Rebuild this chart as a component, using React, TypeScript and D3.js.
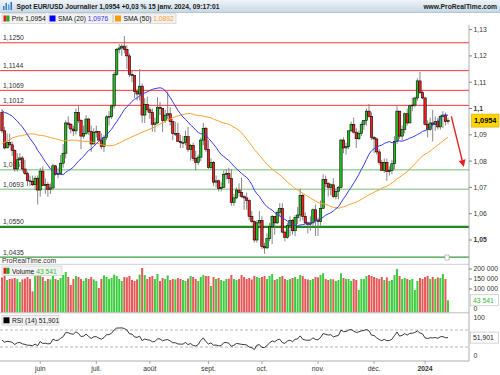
import React from "react";
import * as d3 from "d3";

// ---------- DATA ----------
// closes before the visible window (used only to warm up SMA / RSI)
const priorCloses = [
  1.0665, 1.0595, 1.0635, 1.0683, 1.055, 1.0545, 1.058, 1.064, 1.073, 1.0735, 1.0575, 1.061, 1.067, 1.072, 1.077, 1.0855, 1.083, 1.076, 1.08, 1.0845, 1.0845, 1.0905, 1.084,
  1.09, 1.0955, 1.0905, 1.092, 1.09, 1.086, 1.0915, 1.099, 1.1045, 1.099, 1.0925, 1.097, 1.0955, 1.0965, 1.099, 1.1045, 1.0975, 1.104, 1.1025, 1.102,
  1.0975, 1.0995, 1.107, 1.101, 1.102, 1.1005, 1.096, 1.0985,
];

const closes = [
  // mai
  1.0915, 1.085, 1.087, 1.0862, 1.084, 1.077, 1.0805, 1.0812, 1.077, 1.0752, 1.0725, 1.0723, 1.071, 1.0735, 1.069,
  // juin
  1.0762, 1.0708, 1.0712, 1.0693, 1.0698, 1.0782, 1.075, 1.0752, 1.0792, 1.083, 1.0945, 1.094, 1.0922, 1.0915, 1.0985, 1.0955, 1.0895, 1.0905, 1.096, 1.0912, 1.0865, 1.091,
  // juil.
  1.0912, 1.088, 1.0855, 1.089, 1.0968, 1.097, 1.101, 1.113, 1.1225, 1.123, 1.1237, 1.1225, 1.12, 1.113, 1.1125, 1.1065, 1.1055, 1.1085, 1.0975, 1.1015, 1.0995,
  // août
  1.0985, 1.094, 1.0945, 1.1005, 1.1, 1.0955, 1.0975, 1.098, 1.095, 1.0905, 1.0905, 1.0875, 1.087, 1.087, 1.0893, 1.0845, 1.086, 1.081, 1.0795, 1.0815, 1.088, 1.0925, 1.0845,
  // sept.
  1.0775, 1.0795, 1.072, 1.0725, 1.0695, 1.07, 1.075, 1.0752, 1.0733, 1.0643, 1.066, 1.069, 1.068, 1.0665, 1.066, 1.065, 1.059, 1.057, 1.05, 1.0565, 1.0575,
  // oct.
  1.0475, 1.047, 1.0505, 1.055, 1.059, 1.0565, 1.0605, 1.062, 1.053, 1.051, 1.0555, 1.0575, 1.0535, 1.0585, 1.0595, 1.067, 1.059, 1.0565, 1.056, 1.0565, 1.0615, 1.0575,
  // nov.
  1.057, 1.062, 1.073, 1.0715, 1.07, 1.071, 1.0665, 1.0685, 1.07, 1.088, 1.085, 1.0855, 1.0915, 1.094, 1.091, 1.0885, 1.0905, 1.094, 1.0955, 1.099, 1.097, 1.089,
  // déc.
  1.0884, 1.0835, 1.0795, 1.0765, 1.0795, 1.076, 1.0765, 1.079, 1.0875, 1.099, 1.0895, 1.092, 1.098, 1.0945, 1.101, 1.1013, 1.104, 1.1105, 1.106, 1.104,
  // janv.
  1.094, 1.092, 1.0945, 1.094, 1.095, 1.093, 1.097, 1.0975, 1.095, 1.0954,
];

const highs = [
  1.0997, 1.093, 1.0905, 1.0904, 1.0875, 1.0845, 1.083, 1.083, 1.082, 1.0805, 1.076, 1.0745, 1.0745, 1.0745, 1.0745,
  1.0775, 1.078, 1.0735, 1.072, 1.0715, 1.079, 1.0785, 1.0775, 1.0823, 1.0865, 1.0955, 1.097, 1.0945, 1.0935, 1.1, 1.1012, 1.096, 1.0935, 1.0975, 1.0965, 1.0935, 1.0925,
  1.0935, 1.0915, 1.0905, 1.09, 1.0975, 1.099, 1.1015, 1.114, 1.123, 1.1245, 1.1245, 1.1276, 1.124, 1.121, 1.1145, 1.1125, 1.1075, 1.115, 1.1095, 1.104, 1.1045,
  1.1005, 1.1, 1.0965, 1.1043, 1.1025, 1.1, 1.0995, 1.1065, 1.1005, 1.096, 1.095, 1.0945, 1.09, 1.0895, 1.0915, 1.093, 1.0865, 1.087, 1.084, 1.0825, 1.089, 1.0945, 1.093,
  1.088, 1.081, 1.08, 1.0745, 1.073, 1.072, 1.0765, 1.077, 1.0775, 1.077, 1.0675, 1.07, 1.0715, 1.0737, 1.067, 1.068, 1.0655, 1.061, 1.0575, 1.0575, 1.061,
  1.059, 1.049, 1.0525, 1.0565, 1.0595, 1.058, 1.0615, 1.064, 1.064, 1.0535, 1.0565, 1.059, 1.058, 1.0595, 1.0625, 1.0695, 1.0675, 1.0605, 1.057, 1.059, 1.062, 1.0635,
  1.0585, 1.065, 1.075, 1.0745, 1.072, 1.0715, 1.0735, 1.0695, 1.0705, 1.0885, 1.089, 1.087, 1.0915, 1.095, 1.0965, 1.0925, 1.0915, 1.095, 1.0955, 1.1, 1.1017, 1.0985,
  1.0895, 1.089, 1.0845, 1.0805, 1.081, 1.081, 1.078, 1.0805, 1.0895, 1.101, 1.099, 1.0935, 1.0985, 1.1, 1.1015, 1.104, 1.1045, 1.1115, 1.1139, 1.107,
  1.1045, 1.0955, 1.0965, 1.0995, 1.097, 1.0965, 1.0975, 1.099, 1.0985, 1.0965,
];

const lows = [
  1.0906, 1.0845, 1.085, 1.0855, 1.082, 1.076, 1.076, 1.08, 1.076, 1.0747, 1.0705, 1.0705, 1.0705, 1.069, 1.0635,
  1.0665, 1.0705, 1.0675, 1.0665, 1.0675, 1.069, 1.0745, 1.0735, 1.075, 1.0775, 1.081, 1.0925, 1.0905, 1.0895, 1.09, 1.0945, 1.0845, 1.0885, 1.09, 1.09, 1.0835, 1.0865,
  1.089, 1.0875, 1.0845, 1.0835, 1.088, 1.0935, 1.096, 1.1, 1.1125, 1.121, 1.12, 1.121, 1.115, 1.112, 1.11, 1.104, 1.103, 1.103, 1.0945, 1.0945, 1.0985,
  1.096, 1.0912, 1.091, 1.094, 1.0975, 1.091, 1.0945, 1.096, 1.0935, 1.088, 1.0895, 1.0875, 1.085, 1.085, 1.086, 1.0835, 1.0802, 1.08, 1.0765, 1.0785, 1.08, 1.086, 1.0835,
  1.077, 1.077, 1.0705, 1.07, 1.0685, 1.0685, 1.07, 1.073, 1.0715, 1.063, 1.063, 1.0655, 1.0665, 1.066, 1.0615, 1.0615, 1.0575, 1.0565, 1.049, 1.049, 1.0555,
  1.0465, 1.0448, 1.0465, 1.0495, 1.0485, 1.052, 1.056, 1.059, 1.0525, 1.0495, 1.0505, 1.0515, 1.052, 1.0515, 1.056, 1.057, 1.0575, 1.056, 1.0525, 1.0535, 1.0555, 1.0515,
  1.0515, 1.0555, 1.062, 1.07, 1.0665, 1.067, 1.066, 1.0655, 1.0655, 1.0695, 1.083, 1.0825, 1.0845, 1.091, 1.0905, 1.085, 1.088, 1.0895, 1.092, 1.0935, 1.0965, 1.088,
  1.083, 1.0825, 1.0785, 1.0765, 1.0755, 1.0725, 1.0745, 1.075, 1.077, 1.0865, 1.0885, 1.088, 1.0905, 1.0935, 1.0945, 1.099, 1.1005, 1.103, 1.1055, 1.1035,
  1.0935, 1.089, 1.0915, 1.0875, 1.0915, 1.092, 1.092, 1.0925, 1.0935, 1.094,
];

// volume in thousands
const volumes = [
  158, 165, 145, 150, 152, 155, 150, 135, 148, 152, 160, 150, 88, 165, 172,
  175, 160, 140, 150, 148, 165, 150, 145, 155, 170, 185, 160, 120, 150, 165, 160, 150, 140, 155, 150, 160, 148,
  140, 105, 150, 168, 160, 150, 155, 172, 165, 150, 140, 160, 158, 165, 145, 140, 148, 172, 205, 170, 150,
  160, 165, 150, 175, 140, 155, 150, 168, 145, 150, 148, 155, 150, 145, 140, 152, 165, 160, 150, 140, 160, 170, 165,
  165, 115, 160, 150, 155, 145, 140, 150, 152, 170, 150, 145, 150, 170, 160, 150, 155, 148, 165, 160, 155,
  160, 165, 150, 165, 175, 145, 150, 160, 165, 150, 145, 150, 155, 160, 150, 170, 165, 150, 148, 145, 150, 160,
  158, 170, 178, 150, 145, 150, 148, 140, 145, 178, 155, 150, 150, 140, 150, 145, 95, 150, 150, 165, 170, 165,
  160, 155, 150, 160, 145, 158, 140, 145, 170, 200, 165, 150, 155, 150, 145, 150, 95, 140, 155, 150,
  160, 165, 150, 160, 150, 158, 155, 175, 150, 43.541,
];

const monthLabels = ["juin", "juil.", "août", "sept.", "oct.", "nov.", "déc.", "2024"];
const monthStartIdx = [15, 37, 58, 81, 102, 124, 146, 166];

const priceTicks = [1.13, 1.12, 1.11, 1.1, 1.09, 1.08, 1.07, 1.06, 1.05];
const volumeTicks = [200000, 150000, 100000];
const redLevels = [1.125, 1.1144, 1.1069, 1.1012];
const greenLevels = [1.0767, 1.0693];
const supportLevel = 1.055;
const bottomLevel = 1.0435;
const arrowFrom = { i: 176.3, p: 1.097 };
const arrowTo = { i: 181.2, p: 1.0778 };

const headerText = "Spot EUR/USD Journalier 1,0954 +0,03 % 15 janv. 2024, 09:17:01";
const lastPrice = "1,0954";
const sma20Label = "1,0976";
const sma50Label = "1,0892";
const volLabel = "43 541";
const rsiLabel = "51,901";

// ---------- HELPERS ----------
const FONT = "'Liberation Sans', Arial, sans-serif";
const fmtLevel = (v: number) => v.toFixed(4).replace(".", ",");
const fmtTick = (v: number) => String(+v.toFixed(2)).replace(".", ",");

function sma(all: number[], k: number, offset: number, n: number) {
  const out: number[] = [];
  for (let i = 0; i < n; i++) {
    const j = offset + i;
    out.push(d3.mean(all.slice(j - k + 1, j + 1)) as number);
  }
  return out;
}

function rsi(values: number[], period: number) {
  const out = new Array(values.length).fill(NaN);
  let g = 0, l = 0;
  for (let i = 1; i <= period; i++) {
    const d = values[i] - values[i - 1];
    if (d > 0) g += d; else l -= d;
  }
  let ag = g / period, al = l / period;
  out[period] = 100 - 100 / (1 + ag / al);
  for (let i = period + 1; i < values.length; i++) {
    const d = values[i] - values[i - 1];
    ag = (ag * (period - 1) + Math.max(d, 0)) / period;
    al = (al * (period - 1) + Math.max(-d, 0)) / period;
    out[i] = al === 0 ? 100 : 100 - 100 / (1 + ag / al);
  }
  return out;
}

export default function App() {
  const n = closes.length;
  const all = priorCloses.concat(closes);
  const off = priorCloses.length;
  const opens = closes.map((_, i) => (i === 0 ? priorCloses[off - 1] : closes[i - 1]));
  const s20 = sma(all, 20, off, n);
  const s50 = sma(all, 50, off, n);
  const rsiAll = rsi(all, 14).slice(off);

  const PLOT_R = 469;
  const x = d3.scaleLinear().domain([0, n - 1]).range([2, 448]);
  const y = d3.scaleLinear().domain([1.05, 1.13]).range([240, 29.6]);
  const yv = d3.scaleLinear().domain([0, 200000]).range([309, 269]);
  const yr = d3.scaleLinear().domain([0, 100]).range([359.75, 317.25]);

  const line = d3.line<number>().x((_, i) => x(i)).y((d) => y(d));
  const rsiLine = d3.line<number>().x((_, i) => x(i)).y((d) => yr(d));

  const GREEN = "#22bb22";
  const RED = "#ee2020";
  const VGREEN = "#3dcc3d";
  const VRED = "#e65858";

  const ax = x(arrowFrom.i), ay = y(arrowFrom.p);
  const bx = x(arrowTo.i), by = y(arrowTo.p);
  const ang = Math.atan2(by - ay, bx - ax);
  const ah = 7, aw = 3.5;
  const tip = [bx, by];
  const base = [bx - ah * Math.cos(ang), by - ah * Math.sin(ang)];
  const p1 = [base[0] + aw * Math.sin(ang), base[1] - aw * Math.cos(ang)];
  const p2 = [base[0] - aw * Math.sin(ang), base[1] + aw * Math.cos(ang)];

  return (
    <svg width={500} height={375} style={{ position: "absolute", left: 0, top: 0, fontFamily: FONT }}>
      <defs>
        <linearGradient id="hdr" x1="0" y1="0" x2="0" y2="1">
          <stop offset="0" stopColor="#eef4f8" />
          <stop offset="1" stopColor="#c6d8e4" />
        </linearGradient>
        <clipPath id="mainClip"><rect x={0} y={25} width={PLOT_R} height={233} /></clipPath>
        <clipPath id="volClip"><rect x={0} y={264} width={PLOT_R} height={48.5} /></clipPath>
        <clipPath id="rsiClip"><rect x={0} y={313} width={PLOT_R} height={48} /></clipPath>
      </defs>
      <rect x={0} y={0} width={500} height={375} fill="#fff" />

      {/* header */}
      <rect x={0} y={0} width={500} height={12.5} fill="url(#hdr)" />
      <line x1={0} x2={500} y1={12.5} y2={12.5} stroke="#a9bccb" strokeWidth={0.8} />
      <g>
        <rect x={3} y={6} width={1.5} height={4} fill="#3a7bd5" />
        <rect x={5.5} y={3} width={1.5} height={7} fill="#3a7bd5" />
        <rect x={8} y={4.5} width={1.5} height={5.5} fill="#5aa0e8" />
        <rect x={10.5} y={2} width={1.5} height={8} fill="#2f6fc0" />
      </g>
      <text x={16.5} y={9.3} fontSize={6.7} fontWeight="bold" fill="#1a1a1a">{headerText}</text>
      <text x={497} y={9.3} fontSize={6.7} fontWeight="bold" fill="#1a1a1a" textAnchor="end">www.ProRealTime.com</text>

      {/* legend row */}
      <g fontSize={6.7}>
        <rect x={2} y={13.8} width={44} height={9.6} fill="#f2f2f2" stroke="#c8c8c8" strokeWidth={0.6} />
        <rect x={3.5} y={15.5} width={3} height={6} fill="#dd2222" />
        <rect x={6.5} y={15.5} width={3} height={6} fill="#22aa22" />
        <text x={11.8} y={21.2} fill="#111">Prix {lastPrice}</text>
        <rect x={48} y={13.8} width={64.5} height={9.6} fill="#f2f2f2" stroke="#c8c8c8" strokeWidth={0.6} />
        <rect x={49.5} y={15.5} width={6} height={6} fill="#0000ee" />
        <text x={58} y={21.2} fill="#111">SMA (20) <tspan fill="#3333ee">{sma20Label}</tspan></text>
        <rect x={113.5} y={13.8} width={62.5} height={9.6} fill="#f2f2f2" stroke="#c8c8c8" strokeWidth={0.6} />
        <rect x={115} y={15.5} width={6} height={6} fill="#ff9900" />
        <text x={123.5} y={21.2} fill="#111">SMA (50) <tspan fill="#ff9a22">{sma50Label}</tspan></text>
      </g>

      {/* ---------- main panel ---------- */}
      <g clipPath="url(#mainClip)">
        {redLevels.map((v) => (
          <g key={"r" + v}>
            <line x1={0} x2={PLOT_R} y1={y(v)} y2={y(v)} stroke="#ff3333" strokeWidth={1} />
            <text x={3} y={y(v) - 2.5} fontSize={6.8} fill="#333">{fmtLevel(v)}</text>
          </g>
        ))}
        {greenLevels.map((v) => (
          <g key={"g" + v}>
            <line x1={0} x2={PLOT_R} y1={y(v)} y2={y(v)} stroke="#9fd49f" strokeWidth={1.6} />
            <text x={3} y={y(v) - 2.5} fontSize={6.8} fill="#333">{fmtLevel(v)}</text>
          </g>
        ))}
        <line x1={0} x2={PLOT_R} y1={y(supportLevel)} y2={y(supportLevel)} stroke="#1f8a1f" strokeWidth={2.4} />
        <text x={3} y={y(supportLevel) - 3} fontSize={6.8} fill="#333">{fmtLevel(supportLevel)}</text>
        <line x1={0} x2={PLOT_R} y1={y(bottomLevel)} y2={y(bottomLevel)} stroke="#3d9a3d" strokeWidth={1.3} />
        <text x={3} y={y(bottomLevel) - 2.5} fontSize={6.8} fill="#333">{fmtLevel(bottomLevel)}</text>

        {/* candles */}
        {closes.map((c, i) => {
          const o = opens[i];
          const hi = Math.max(highs[i], o, c);
          const lo = Math.min(lows[i], o, c);
          const up = c >= o;
          const top = y(Math.max(o, c));
          const h = Math.max(0.8, Math.abs(y(o) - y(c)));
          return (
            <g key={i}>
              <line x1={x(i)} x2={x(i)} y1={y(hi)} y2={y(lo)} stroke="#7a7a7a" strokeWidth={0.9} />
              <rect x={x(i) - 1.2} y={top} width={2.4} height={h} fill={up ? GREEN : RED} stroke="#000" strokeWidth={0.55} />
            </g>
          );
        })}

        <path d={line(s50) || ""} fill="none" stroke="#ffa030" strokeWidth={1} />
        <path d={line(s20) || ""} fill="none" stroke="#3a3aee" strokeWidth={1} />

        {/* arrow annotation */}
        <line x1={ax} y1={ay} x2={base[0]} y2={base[1]} stroke="#e82020" strokeWidth={1.4} />
        <polygon points={[tip, p1, p2].map((p) => p.join(",")).join(" ")} fill="#e82020" />
      </g>
      <rect x={445} y={255} width={4} height={5} fill="#fff" stroke="#999" strokeWidth={0.6} />
      <text x={2} y={263.3} fontSize={6.8} fill="#333">ProRealTime.com</text>

      {/* price axis */}
      <line x1={PLOT_R} x2={PLOT_R} y1={25} y2={361} stroke="#9a9a9a" strokeWidth={0.8} />
      {priceTicks.map((v) => {
        const bold = Math.abs(Math.round(v * 20) - v * 20) < 1e-6;
        return (
          <g key={"pt" + v}>
            <line x1={PLOT_R} x2={PLOT_R + 3} y1={y(v)} y2={y(v)} stroke="#666" strokeWidth={0.8} />
            <text x={473.5} y={y(v) + 2.4} fontSize={6.8} fontWeight={bold ? "bold" : "normal"} fill="#333">{fmtTick(v)}</text>
          </g>
        );
      })}
      <rect x={471.5} y={y(1.0954) - 6.5} width={27.5} height={13} fill="#ffd400" stroke="#c9a800" strokeWidth={0.6} />
      <text x={485.2} y={y(1.0954) + 2.6} fontSize={7.3} fontWeight="bold" textAnchor="middle" fill="#000">{lastPrice}</text>

      {/* ---------- volume panel ---------- */}
      <line x1={0} x2={PLOT_R} y1={264.3} y2={264.3} stroke="#b0b0b0" strokeWidth={0.6} />
      <g clipPath="url(#volClip)">
        {volumes.map((v, i) => (
          <rect key={"v" + i} x={x(i) - 1} y={yv(v * 1000)} width={2} height={312.5 - yv(v * 1000)}
            fill={closes[i] >= opens[i] ? VGREEN : VRED} />
        ))}
      </g>
      <rect x={2} y={266} width={60} height={9.6} fill="#f2f2f2" stroke="#c8c8c8" strokeWidth={0.6} />
      <rect x={3.5} y={267.8} width={3} height={6} fill="#dd2222" />
      <rect x={6.5} y={267.8} width={3} height={6} fill="#22aa22" />
      <text x={12} y={273.5} fontSize={6.7} fill="#111">Volume <tspan fill="#33bb33">{volLabel}</tspan></text>
      {volumeTicks.map((v) => (
        <g key={"vt" + v}>
          <line x1={PLOT_R} x2={PLOT_R + 3} y1={yv(v)} y2={yv(v)} stroke="#666" strokeWidth={0.8} />
          <text x={473.5} y={yv(v) + 2.4} fontSize={6.8} fill="#333">{d3.format(",")(v).replace(",", " ")}</text>
        </g>
      ))}
      <text x={473.5} y={yv(0) + 2.4} fontSize={6.8} fill="#333">0</text>
      <rect x={470.5} y={yv(43541) - 5.5} width={28} height={11} fill="#fff" stroke="#b8b8b8" strokeWidth={0.6} />
      <text x={473} y={yv(43541) + 2.4} fontSize={6.8} fill="#33bb33">{volLabel}</text>
      <line x1={0} x2={PLOT_R} y1={312.8} y2={312.8} stroke="#a0a0a0" strokeWidth={0.7} />

      {/* ---------- RSI panel ---------- */}
      <line x1={0} x2={PLOT_R} y1={yr(70)} y2={yr(70)} stroke="#9a9a9a" strokeWidth={0.7} strokeDasharray="3,2" />
      <line x1={0} x2={PLOT_R} y1={yr(30)} y2={yr(30)} stroke="#9a9a9a" strokeWidth={0.7} strokeDasharray="3,2" />
      <g clipPath="url(#rsiClip)">
        <path d={rsiLine(rsiAll) || ""} fill="none" stroke="#222" strokeWidth={0.9} />
      </g>
      <rect x={2} y={315.5} width={57} height={9.6} fill="#f2f2f2" stroke="#c8c8c8" strokeWidth={0.6} />
      <rect x={3.5} y={317.3} width={6} height={6} fill="#000" />
      <text x={12} y={323} fontSize={6.7} fill="#111">RSI (14) {rsiLabel}</text>
      <text x={473.5} y={yr(100) + 2.4} fontSize={6.8} fill="#333">100</text>
      <text x={473.5} y={yr(0) - 1.5} fontSize={6.8} fill="#333">0</text>
      <rect x={470.5} y={rsiAllLast(rsiAll) - 5.5} width={28} height={11} fill="#fff" stroke="#b8b8b8" strokeWidth={0.6} />
      <text x={473} y={rsiAllLast(rsiAll) + 2.4} fontSize={6.8} fill="#222">{rsiLabel}</text>

      {/* x axis */}
      <line x1={0} x2={PLOT_R} y1={361} y2={361} stroke="#9a9a9a" strokeWidth={0.8} />
      {monthLabels.map((m, k) => (
        <g key={m}>
          <line x1={x(monthStartIdx[k])} x2={x(monthStartIdx[k])} y1={361} y2={364} stroke="#888" strokeWidth={0.7} />
          <text x={x(monthStartIdx[k])} y={371} fontSize={6.8} textAnchor="middle" fontWeight={m === "2024" ? "bold" : "normal"} fill="#333">{m}</text>
        </g>
      ))}
    </svg>
  );

  function rsiAllLast(arr: number[]) {
    return yr(arr[arr.length - 1]);
  }
}
